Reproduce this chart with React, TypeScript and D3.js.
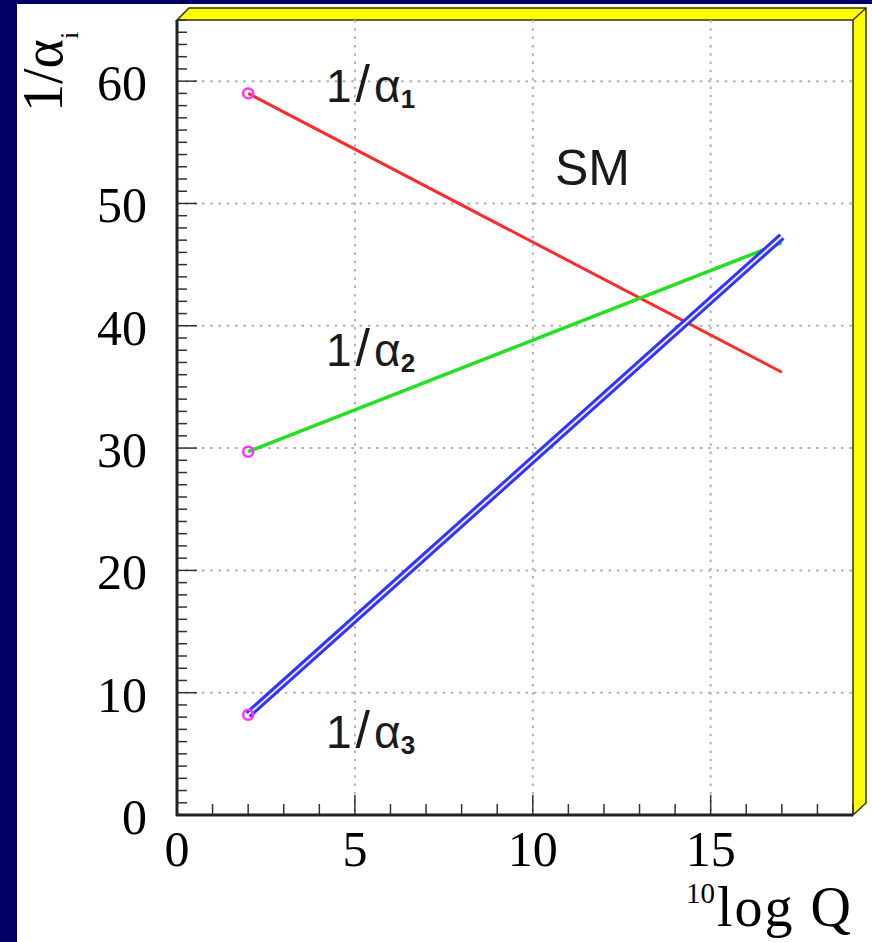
import React from "react";
import * as d3 from "d3";

const scaleQ = [2, 17];
const invAlpha1 = [59.0, 36.2];
const invAlpha2 = [29.7, 46.8];
const invAlpha3 = [8.2, 47.3];
const xTicks = [0, 5, 10, 15];
const yTicks = [0, 10, 20, 30, 40, 50, 60];
const xMinor = d3.range(0, 20, 1);
const yMinor = d3.range(0, 66, 1);

const W = 872, H = 942;
const L = 177, R = 853, T = 20, B = 815;

export default function App() {
  const x = d3.scaleLinear().domain([0, 19]).range([L, R]);
  const y = d3.scaleLinear().domain([0, 65]).range([B, T]);
  const line = d3.line<[number, number]>().x(d => x(d[0])).y(d => y(d[1]));
  const pts = (vals: number[]) => scaleQ.map((q, i) => [q, vals[i]] as [number, number]);
  const serif = "'Liberation Serif', 'DejaVu Serif', serif";
  const sans = "'Liberation Sans', Arial, sans-serif";
  const grid = "#b0b0b0";
  const label = (yb: number, sub: string) => (
    <text x={326} y={yb} fontFamily={sans} fontSize={46} fill="#1a1a1a">
      <tspan>1</tspan>
      <tspan dx={4} fontSize={52}>/</tspan>
      <tspan dx={4}>α</tspan>
      <tspan fontSize={26} fontWeight="bold" dy={6}>{sub}</tspan>
    </text>
  );
  return (
    <svg width={W} height={H} style={{ position: "absolute", left: 0, top: 0, display: "block" }}>
      <rect x={0} y={0} width={W} height={H} fill="#000064" />
      <rect x={17} y={4} width={W - 17} height={H - 4} fill="#ffffff" />
      {/* frame border */}
      <polygon
        points={`${L},${T} ${L + 12},${T - 12} ${R + 13},${T - 12} ${R + 13},${B - 12} ${R},${B} ${R},${T}`}
        fill="#ffff00" stroke="#333300" strokeWidth={1.5} />
      <line x1={R} y1={T} x2={R + 13} y2={T - 12} stroke="#333300" strokeWidth={1.5} />
      {/* grid */}
      {xTicks.filter(t => t > 0).map(t => (
        <line key={"gx" + t} x1={x(t)} x2={x(t)} y1={T} y2={B} stroke={grid} strokeWidth={2} strokeDasharray="2.5,5.8" />
      ))}
      {yTicks.filter(t => t > 0).map(t => (
        <line key={"gy" + t} x1={L} x2={R} y1={y(t)} y2={y(t)} stroke={grid} strokeWidth={2} strokeDasharray="2.5,5.8" />
      ))}
      {/* ticks */}
      {xMinor.map(t => (
        <line key={"tx" + t} x1={x(t)} x2={x(t)} y1={B} y2={B - (t % 5 === 0 ? 20 : 11)} stroke="#333" strokeWidth={1.5} />
      ))}
      {yMinor.map(t => (
        <line key={"ty" + t} x1={L} x2={L + (t % 10 === 0 ? 20 : 10)} y1={y(t)} y2={y(t)} stroke="#333" strokeWidth={1.5} />
      ))}
      <line x1={L} x2={L} y1={T} y2={B + 1} stroke="#222" strokeWidth={3} />
      <line x1={L - 1} x2={R} y1={B} y2={B} stroke="#222" strokeWidth={3} />
      {/* tick labels */}
      {xTicks.map(t => (
        <text key={"lx" + t} x={x(t)} y={866} textAnchor="middle" fontFamily={serif} fontSize={50} fill="#000">{t}</text>
      ))}
      {yTicks.map(t => (
        <text key={"ly" + t} x={147} y={y(t) + 19} textAnchor="end" fontFamily={serif} fontSize={50} fill="#000">{t}</text>
      ))}
      {/* axis titles */}
      <text x={717} y={926} fontFamily={serif} fontSize={56} fill="#000" letterSpacing={2}>log Q</text>
      <text x={715} y={903} textAnchor="end" fontFamily={serif} fontSize={29} fill="#000">10</text>
      <text transform="translate(62,112) rotate(-90)" fontFamily={serif} fontSize={56} fill="#000">
        <tspan>1/α</tspan>
        <tspan fontSize={26} dy={16}>i</tspan>
      </text>
      {/* lines */}
      <path d={line(pts(invAlpha1)) || ""} stroke="#ff2a2a" strokeWidth={3} fill="none" />
      <path d={line(pts(invAlpha2)) || ""} stroke="#22e022" strokeWidth={3.5} fill="none" />
      <path d={line(pts(invAlpha3)) || ""} stroke="#3333ff" strokeWidth={8} fill="none" />
      <path d={line(pts(invAlpha3)) || ""} stroke="#e8e8ff" strokeWidth={2} fill="none" />
      {[invAlpha1, invAlpha2, invAlpha3].map((s, i) => (
        <circle key={"c" + i} cx={x(scaleQ[0])} cy={y(s[0])} r={5} fill="none" stroke="#ff33ff" strokeWidth={2.5} />
      ))}
      {/* labels */}
      {label(102, "1")}
      {label(366, "2")}
      {label(748, "3")}
      <text x={555} y={185} fontFamily={sans} fontSize={50} fill="#1a1a1a">SM</text>
    </svg>
  );
}
